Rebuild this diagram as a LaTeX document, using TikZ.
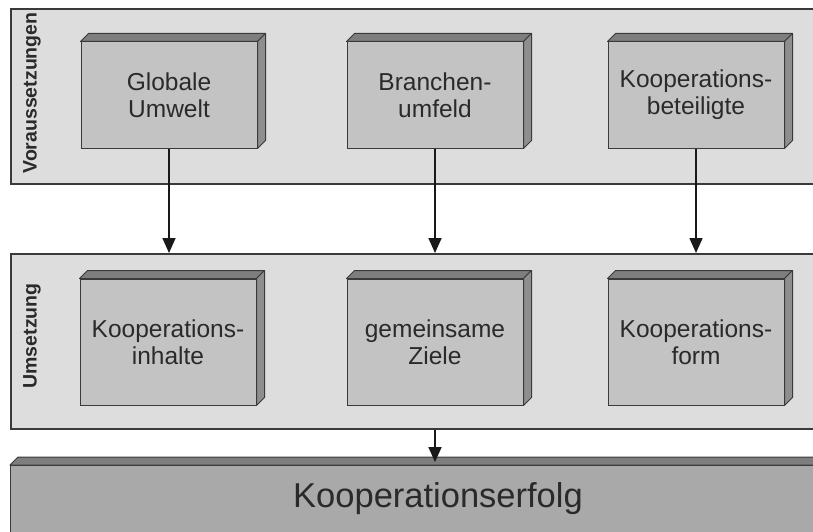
\documentclass[tikz,border=0pt]{standalone}
\usepackage{fontspec}
\setmainfont{Liberation Sans}
\usetikzlibrary{arrows.meta}
\definecolor{panelfill}{HTML}{DDDDDD}
\definecolor{frontfill}{HTML}{C3C3C3}
\definecolor{topfill}{HTML}{7E7E7E}
\definecolor{sidefill}{HTML}{8E8E8E}
\definecolor{edge}{HTML}{3A3A3A}
\definecolor{resfill}{HTML}{A9A9A9}
\definecolor{txt}{HTML}{2A2A2A}
\begin{document}
\begin{tikzpicture}[x=1pt,y=-1pt,
  panel/.style={draw=edge, line width=1.8pt, fill=panelfill, minimum width=840pt,
    minimum height=175pt, inner sep=0pt, anchor=north west},
  panellabel/.style={rotate=90, font=\fontsize{19.5}{22}\selectfont\bfseries, text=txt, inner sep=0pt},
  cube/.style={draw=edge, line width=1pt, fill=frontfill, minimum width=176pt,
    inner sep=0pt, align=center, font=\fontsize{24.5}{27}\selectfont, text=txt},
  bevel/.style={draw=edge, line width=1pt, line join=round},
  arr/.style={draw=black!90, line width=1.7pt, -{Triangle[length=15pt,width=13pt]}}]
\clip (0,0) rectangle (813,532);
\fill[white] (0,0) rectangle (813,532);

% Two panels
\node[panel] (pa) at (10,8) {};
\node[panel] (pb) at (10,253) {};
\node[panellabel] (la) at (32,93) {Voraussetzungen};
\node[panellabel] (lb) at (32,336) {Umsetzung};

% Upper row of blocks
\node[cube, minimum height=106pt] (g) at (169,95) {Globale\\Umwelt};
\node[cube, minimum height=106pt] (b) at (435,95) {Branchen-\\umfeld};
\node[cube, minimum height=106pt] (k) at (696,95) {Kooperations-\\beteiligte};
% Lower row of blocks
\node[cube, minimum height=126pt] (i) at (168,342) {Kooperations-\\inhalte};
\node[cube, minimum height=126pt] (z) at (435,342) {gemeinsame\\Ziele};
\node[cube, minimum height=126pt] (f) at (696,342) {Kooperations-\\form};

% Top and side faces of the blocks
\foreach \n in {g,b,k,i,z,f}{
  \filldraw[bevel, fill=topfill] (\n.north west) -- ([shift={(8,-8)}]\n.north west)
    -- ([shift={(8,-8)}]\n.north east) -- (\n.north east) -- cycle;
  \filldraw[bevel, fill=sidefill] (\n.north east) -- ([shift={(8,-8)}]\n.north east)
    -- ([shift={(8,-8)}]\n.south east) -- (\n.south east) -- cycle;
}

% Result bar
\node[draw=edge, line width=1.2pt, fill=resfill, minimum width=880pt, minimum height=90pt,
  inner sep=0pt, anchor=north west] (res) at (10,465) {};
\filldraw[bevel, fill=topfill] (res.north west) -- ([shift={(8,-8)}]res.north west)
  -- ([shift={(8,-8)}]res.north east) -- (res.north east) -- cycle;
\node[font=\fontsize{34.5}{40}\selectfont, text=txt, inner sep=0pt] (rt) at (438,499) {Kooperationserfolg};

% Connectors
\draw[arr] (g.south) -- (g.south |- pb.north);
\draw[arr] (b.south) -- (b.south |- pb.north);
\draw[arr] (k.south) -- (k.south |- pb.north);
\draw[arr, shorten >=3pt] (z.south |- pb.south) -- (z.south |- res.north);
\end{tikzpicture}
\end{document}
